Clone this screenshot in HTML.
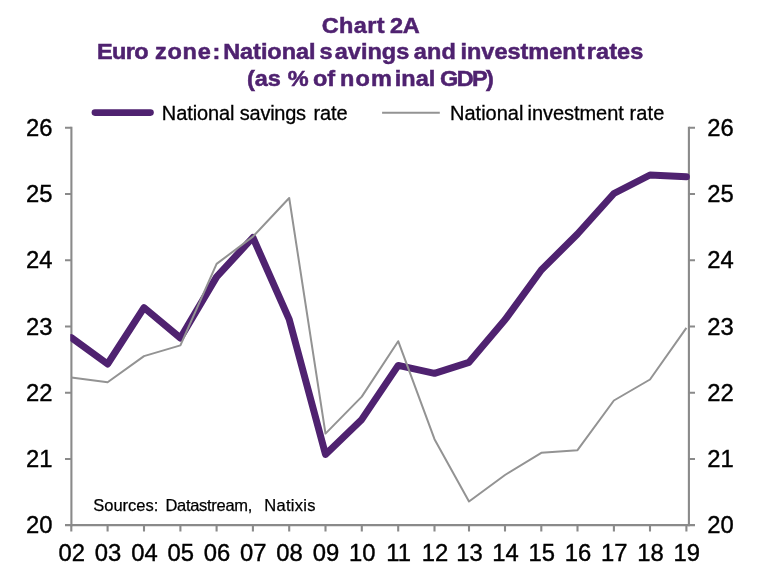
<!DOCTYPE html>
<html><head><meta charset="utf-8"><title>Chart 2A</title>
<style>
html,body{margin:0;padding:0;background:#fff;}
svg{display:block;}
text{font-family:"Liberation Sans",Arial,sans-serif;white-space:pre;}
.t{font-weight:bold;fill:#4f2270;font-size:23.5px;stroke:#4f2270;stroke-width:0.55px;}
.a{font-size:23.8px;fill:#000;stroke:#000;stroke-width:0.4px;}
.l{font-size:20px;fill:#000;stroke:#000;stroke-width:0.3px;}
.s{font-size:16.5px;fill:#000;stroke:#000;stroke-width:0.25px;}
</style></head><body>
<svg width="764" height="580" viewBox="0 0 764 580">
<rect width="764" height="580" fill="#fff"/>
<text class="t" y="33.99" transform="scale(1,0.965)"><tspan x="321.7" style="letter-spacing:0.37px">Chart</tspan> <tspan x="390.0" style="letter-spacing:-0.26px">2A</tspan></text>
<text class="t" y="61.14" transform="scale(1,0.965)"><tspan x="97.0" style="letter-spacing:-0.60px">Euro</tspan> <tspan x="155.0" style="letter-spacing:0.76px">zone</tspan><tspan x="212.4" style="letter-spacing:0.00px">:</tspan> <tspan x="223.2" style="letter-spacing:-0.05px">National</tspan> <tspan x="319.5" style="letter-spacing:0.00px">s</tspan><tspan x="334.8" style="letter-spacing:0.01px">avings</tspan> <tspan x="413.8" style="letter-spacing:0.10px">and</tspan> <tspan x="460.5" style="letter-spacing:0.00px">investment</tspan> <tspan x="586.8" style="letter-spacing:0.09px">rates</tspan></text>
<text class="t" y="89.02" transform="scale(1,0.965)"><tspan x="246.9" style="letter-spacing:-0.06px">(as</tspan> <tspan x="287.8" style="letter-spacing:0.00px">%</tspan> <tspan x="313.0" style="letter-spacing:-0.10px">of</tspan> <tspan x="339.9" style="letter-spacing:1.20px">nom</tspan><tspan x="394.8" style="letter-spacing:0.02px">inal</tspan> <tspan x="440.0" style="letter-spacing:-1.59px">GDP)</tspan></text>
<text class="l" y="122.67" transform="scale(1,0.975)"><tspan x="161.8" style="letter-spacing:-0.09px">National</tspan> <tspan x="239.8" style="letter-spacing:-0.25px">savings</tspan> <tspan x="313.4" style="letter-spacing:-0.07px">rate</tspan></text>
<text class="l" y="122.67" transform="scale(1,0.975)"><tspan x="450.0" style="letter-spacing:0.01px">National</tspan> <tspan x="527.5" style="letter-spacing:-0.04px">investment</tspan> <tspan x="629.5" style="letter-spacing:0.17px">rate</tspan></text>
<text class="s" y="511.20"><tspan x="93.2" style="letter-spacing:0.01px">Sources:</tspan> <tspan x="165.4" style="letter-spacing:-0.29px">Datastream,</tspan> <tspan x="264.2" style="letter-spacing:0.30px">Natixis</tspan></text>
<line x1="94.9" y1="112.6" x2="150.5" y2="112.6" stroke="#4f2270" stroke-width="6.6" stroke-linecap="round"/>
<line x1="382.1" y1="112.8" x2="439.8" y2="112.8" stroke="#939393" stroke-width="2"/>
<g stroke="#8a8a8a" stroke-width="2.1" fill="none">
<path d="M71.4,126.75 V526.20"/>
<path d="M688.9,126.75 V526.20"/>
<path d="M65,525.15 H695"/>
<path d="M65,458.93 H71.4 M688.9,458.93 H695"/>
<path d="M65,392.70 H71.4 M688.9,392.70 H695"/>
<path d="M65,326.47 H71.4 M688.9,326.47 H695"/>
<path d="M65,260.25 H71.4 M688.9,260.25 H695"/>
<path d="M65,194.02 H71.4 M688.9,194.02 H695"/>
<path d="M65,127.80 H71.4 M688.9,127.80 H695"/>
<path d="M71.3,525.15 V531.5"/>
<path d="M107.6,525.15 V531.5"/>
<path d="M144.0,525.15 V531.5"/>
<path d="M180.4,525.15 V531.5"/>
<path d="M216.6,525.15 V531.5"/>
<path d="M252.9,525.15 V531.5"/>
<path d="M289.2,525.15 V531.5"/>
<path d="M325.5,525.15 V531.5"/>
<path d="M361.8,525.15 V531.5"/>
<path d="M398.2,525.15 V531.5"/>
<path d="M434.5,525.15 V531.5"/>
<path d="M469.0,525.15 V531.5"/>
<path d="M505.0,525.15 V531.5"/>
<path d="M541.3,525.15 V531.5"/>
<path d="M577.5,525.15 V531.5"/>
<path d="M613.9,525.15 V531.5"/>
<path d="M650.0,525.15 V531.5"/>
<path d="M686.4,525.15 V531.5"/>
</g>
<text class="a" x="52.5" y="136.2" text-anchor="end">26</text>
<text class="a" x="707.2" y="136.2">26</text>
<text class="a" x="52.5" y="202.3" text-anchor="end">25</text>
<text class="a" x="707.2" y="202.3">25</text>
<text class="a" x="52.5" y="268.4" text-anchor="end">24</text>
<text class="a" x="707.2" y="268.4">24</text>
<text class="a" x="52.5" y="334.5" text-anchor="end">23</text>
<text class="a" x="707.2" y="334.5">23</text>
<text class="a" x="52.5" y="400.6" text-anchor="end">22</text>
<text class="a" x="707.2" y="400.6">22</text>
<text class="a" x="52.5" y="466.7" text-anchor="end">21</text>
<text class="a" x="707.2" y="466.7">21</text>
<text class="a" x="52.5" y="532.8" text-anchor="end">20</text>
<text class="a" x="707.2" y="532.8">20</text>
<text class="a" x="71.7" y="561.2" text-anchor="middle">02</text>
<text class="a" x="108.0" y="561.2" text-anchor="middle">03</text>
<text class="a" x="144.4" y="561.2" text-anchor="middle">04</text>
<text class="a" x="180.8" y="561.2" text-anchor="middle">05</text>
<text class="a" x="217.0" y="561.2" text-anchor="middle">06</text>
<text class="a" x="253.3" y="561.2" text-anchor="middle">07</text>
<text class="a" x="289.6" y="561.2" text-anchor="middle">08</text>
<text class="a" x="325.9" y="561.2" text-anchor="middle">09</text>
<text class="a" x="362.2" y="561.2" text-anchor="middle">10</text>
<text class="a" x="398.6" y="561.2" text-anchor="middle">11</text>
<text class="a" x="434.9" y="561.2" text-anchor="middle">12</text>
<text class="a" x="469.4" y="561.2" text-anchor="middle">13</text>
<text class="a" x="505.4" y="561.2" text-anchor="middle">14</text>
<text class="a" x="541.7" y="561.2" text-anchor="middle">15</text>
<text class="a" x="577.9" y="561.2" text-anchor="middle">16</text>
<text class="a" x="614.3" y="561.2" text-anchor="middle">17</text>
<text class="a" x="650.4" y="561.2" text-anchor="middle">18</text>
<text class="a" x="686.8" y="561.2" text-anchor="middle">19</text>
<clipPath id="pa"><rect x="70.3" y="120" width="619.8" height="410"/></clipPath>
<g clip-path="url(#pa)"><polyline points="71.3,337.7 107.6,364.0 144.0,307.6 180.4,338.0 216.6,276.9 252.9,237.5 289.2,319.3 325.5,454.4 361.8,419.4 398.2,365.4 434.5,373.3 469.0,362.3 505.0,319.8 541.3,270.0 577.5,234.0 613.9,193.5 650.0,175.0 686.4,176.8" fill="none" stroke="#4f2270" stroke-width="7" stroke-linejoin="round" stroke-linecap="round"/>
<polyline points="71.3,377.6 107.6,382.2 144.0,356.1 180.4,345.4 216.6,263.9 252.9,236.6 289.2,198.0 325.5,433.6 361.8,396.6 398.2,341.2 434.5,439.2 469.0,501.5 505.0,475.0 541.3,452.8 577.5,450.2 613.9,400.5 650.0,379.5 686.4,327.9" fill="none" stroke="#939393" stroke-width="2" stroke-linejoin="round"/></g>
</svg></body></html>
